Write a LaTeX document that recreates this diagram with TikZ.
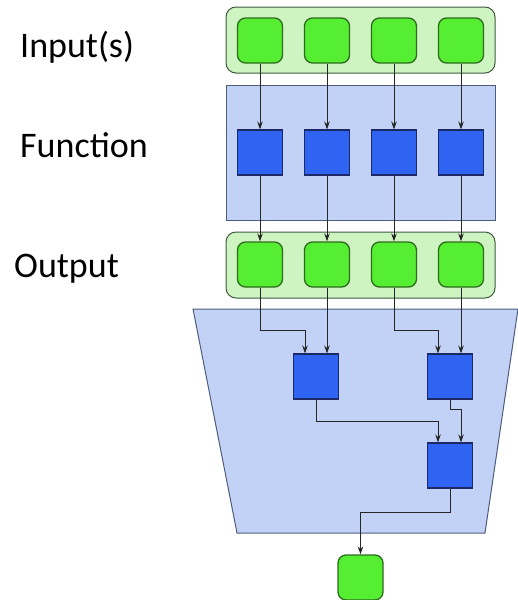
\documentclass[tikz,border=0pt]{standalone}
\usepackage{fontspec}
\setmainfont{Carlito}
\usepackage{tikz}
\usetikzlibrary{arrows.meta, positioning}
\definecolor{cellGreen}{HTML}{55EE33}
\definecolor{cellGreenLine}{HTML}{2E6B1E}
\definecolor{panelGreen}{HTML}{CDF4C1}
\definecolor{panelGreenLine}{HTML}{3F5A3F}
\definecolor{cellBlue}{HTML}{2F64F2}
\definecolor{cellBlueLine}{HTML}{1B2A66}
\definecolor{panelBlue}{HTML}{C2D2F7}
\definecolor{panelBlueLine}{HTML}{4E5C7C}

\begin{document}
\begin{tikzpicture}[
  x=1pt, y=-1pt,
  every node/.style={font=\fontsize{36}{40}\selectfont},
  datum/.style={draw=cellGreenLine, fill=cellGreen, rounded corners=8pt,
                minimum width=45pt, minimum height=45pt, inner sep=0pt,
                line width=1.3pt},
  func/.style={draw=cellBlueLine, fill=cellBlue, minimum width=45pt,
               minimum height=45pt, inner sep=0pt, line width=1.1pt},
  gpanel/.style={draw=panelGreenLine, fill=panelGreen, rounded corners=10pt,
                 minimum width=269pt, minimum height=66pt, inner sep=0pt,
                 line width=1pt},
  bpanel/.style={draw=panelBlueLine, fill=panelBlue, minimum width=269pt,
                 minimum height=135pt, inner sep=0pt, line width=1pt},
  lbl/.style={anchor=base west, inner sep=0pt},
  arr/.style={-{Stealth[length=8pt, width=5.5pt]}, line width=1pt, black!85},
]
  \useasboundingbox (0,0) rectangle (517,600);

  \node[lbl] (lin)  at (20,57)  {Input(s)};
  \node[lbl] (lfn)  at (20,157) {Function};
  \node[lbl] (lout) at (14,277) {Output};

  \node[gpanel] (inrow)  at (360.5,40)    {};
  \node[bpanel] (fnrow)  at (360.5,152.5) {};
  \node[gpanel] (outrow) at (360.5,265)   {};
  \path[draw=panelBlueLine, fill=panelBlue, line width=1pt]
    (193,309) -- (518,309) -- (485,533) -- (237,533) -- cycle;

  \node[datum] (in1) at (260,40.5) {};
  \node[datum] (in2) at (327,40.5) {};
  \node[datum] (in3) at (394,40.5) {};
  \node[datum] (in4) at (461,40.5) {};

  \node[func] (fn1) at (260,152.5) {};
  \node[func] (fn2) at (327,152.5) {};
  \node[func] (fn3) at (394,152.5) {};
  \node[func] (fn4) at (461,152.5) {};

  \node[datum] (out1) at (260,264.5) {};
  \node[datum] (out2) at (327,264.5) {};
  \node[datum] (out3) at (394,264.5) {};
  \node[datum] (out4) at (461,264.5) {};

  \node[func] (red1) at (316,376.5) {};
  \node[func] (red2) at (450,376.5) {};
  \node[func] (red3) at (450,465.5) {};

  \node[datum] (res) at (360.5,577.5) {};

  \draw[arr] (in1) -- (fn1);
  \draw[arr] (in2) -- (fn2);
  \draw[arr] (in3) -- (fn3);
  \draw[arr] (in4) -- (fn4);

  \draw[arr] (fn1) -- (out1);
  \draw[arr] (fn2) -- (out2);
  \draw[arr] (fn3) -- (out3);
  \draw[arr] (fn4) -- (out4);

  \draw[arr] (out1.south) -- ++(0,43) -| ([xshift=-11pt]red1.north);
  \draw[arr] (out2.south) -- (red1.north -| out2.south);
  \draw[arr] (out3.south) -- ++(0,43) -| ([xshift=-12pt]red2.north);
  \draw[arr] (out4.south) -- (red2.north -| out4.south);

  \draw[arr] (red1.south) -- ++(0,22) -| ([xshift=-12pt]red3.north);
  \draw[arr] (red2.south) -- ++(0,10) -| ([xshift=11pt]red3.north);

  \draw[arr] (red3.south) -- ++(0,24) -| (res.north);
\end{tikzpicture}
\end{document}
